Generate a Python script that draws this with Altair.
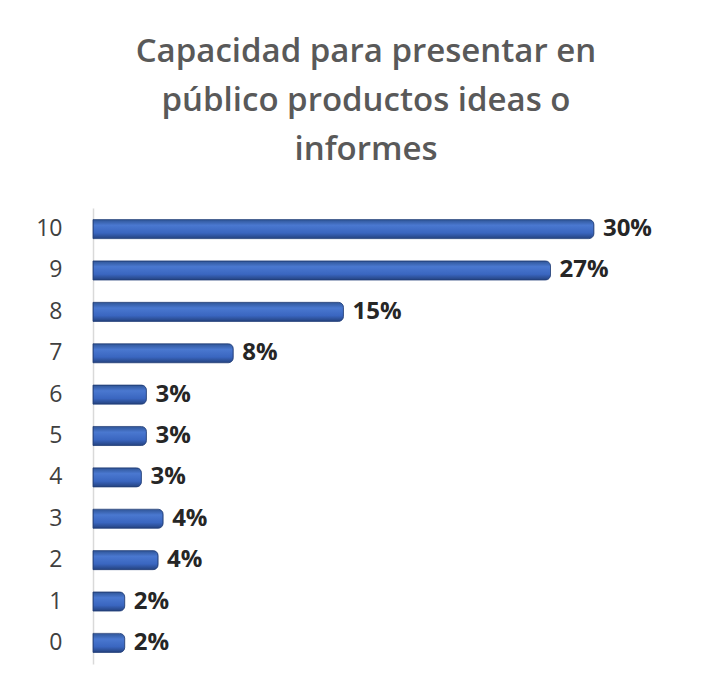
import altair as alt
import pandas as pd

categories = ["10", "9", "8", "7", "6", "5", "4", "3", "2", "1", "0"]
values = [30.0, 27.4, 15.0, 8.4, 3.2, 3.2, 2.9, 4.2, 3.9, 1.9, 1.9]
labels = ["30%", "27%", "15%", "8%", "3%", "3%", "3%", "4%", "4%", "2%", "2%"]

df = pd.DataFrame({"cat": categories, "val": values, "lab": labels})

FONT = "Open Sans"

y_enc = alt.Y("cat:N", sort=categories, title=None,
              scale=alt.Scale(paddingInner=0.54, paddingOuter=0.28),
              axis=alt.Axis(labelFontSize=23, labelColor="#404040", labelFont=FONT,
                            ticks=False, labelPadding=31, domainColor="#d9d9d9",
                            domainWidth=1.5, grid=False))
x_enc = alt.X("val:Q", title=None, scale=alt.Scale(domain=[0, 32.7], nice=False),
              axis=None)

grad = alt.Gradient(
    gradient="linear",
    stops=[alt.GradientStop(color="#2f5597", offset=0),
           alt.GradientStop(color="#4a78d0", offset=0.3),
           alt.GradientStop(color="#3a66c0", offset=0.7),
           alt.GradientStop(color="#24427f", offset=1)],
    x1=0, x2=0, y1=0, y2=1)

bars = alt.Chart(df).mark_bar(color=grad, stroke="#23407a", strokeWidth=0.8,
                              cornerRadiusEnd=5).encode(x=x_enc, y=y_enc)

text = alt.Chart(df).mark_text(align="left", baseline="middle", dx=9, fontSize=24,
                               fontWeight="bold", font=FONT, color="#262626").encode(
    x=x_enc, y=y_enc, text="lab:N")

chart = (bars + text).properties(
    width=546, height=456,
    padding={"left": 85, "top": 200, "right": 69, "bottom": 21},
    autosize=alt.AutoSizeParams(type="none"),
    title=alt.TitleParams(
        text=["Capacidad para presentar en", "público productos ideas o", "informes"],
        font=FONT, fontSize=33, fontWeight=600, color="#595959",
        anchor="middle", lineHeight=49, offset=41),
).configure_view(stroke=None)

chart.save("out.html", embed_options={"renderer": "svg", "actions": False})
